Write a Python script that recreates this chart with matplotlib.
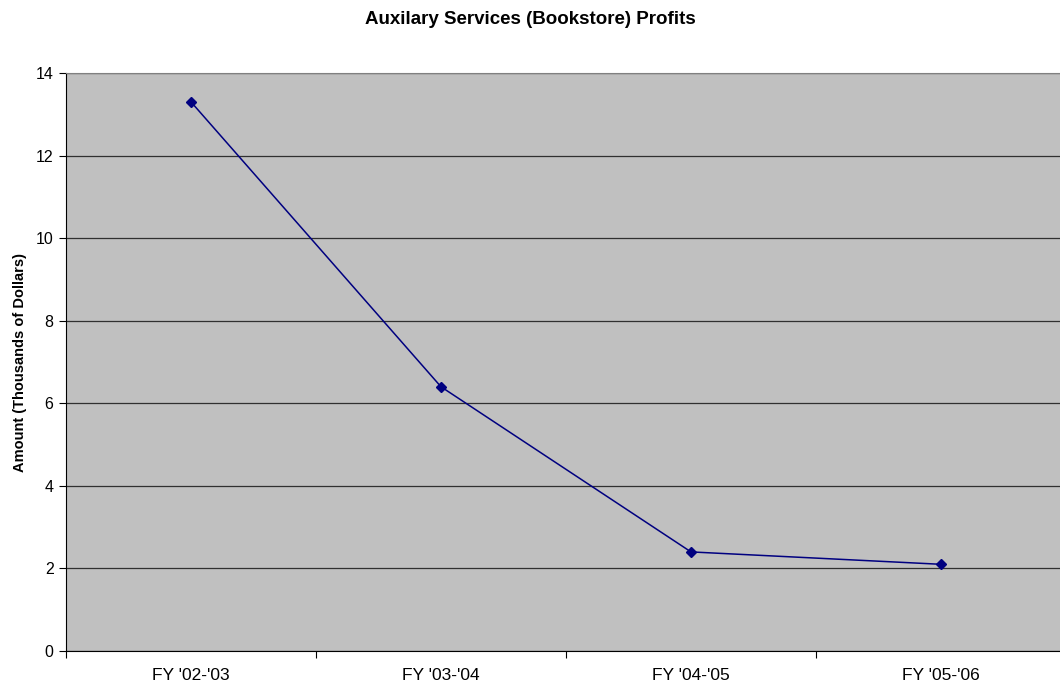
import matplotlib
matplotlib.use("Agg")
import matplotlib.pyplot as plt
import numpy as np

plt.rcParams['font.family'] = ['Liberation Sans', 'DejaVu Sans']

years = ["FY '02-'03", "FY '03-'04", "FY '04-'05", "FY '05-'06"]
profits = [13.3, 6.4, 2.4, 2.1]

fig = plt.figure(figsize=(10.6, 6.85), dpi=100)
ax = fig.add_axes([66 / 1060, 34 / 685, 1000 / 1060, 578 / 685])
ax.set_facecolor('#c0c0c0')

x = np.arange(len(years))
ax.plot(x, profits, color='#000080', lw=1.1, marker='D', markersize=5)

ax.set_xlim(-0.5, len(years) - 0.5)
ax.set_ylim(0, 14)
ax.set_yticks(range(0, 15, 2))
ax.yaxis.grid(True, color='#303030', lw=0.9)
ax.set_axisbelow(True)

# category labels sit on minor ticks, tick marks on the boundaries
ax.set_xticks(np.arange(-0.5, len(years), 1.0))
ax.set_xticklabels([])
ax.set_xticks(x, minor=True)
ax.set_xticklabels(years, minor=True)
ax.tick_params(axis='x', which='minor', length=0, pad=12, labelsize=12.5)
ax.tick_params(axis='x', which='major', length=5, color='#000000')
ax.tick_params(axis='y', length=5, labelsize=11.5, pad=4)

ax.spines['right'].set_visible(False)
ax.spines['top'].set_color('#808080')
ax.spines['left'].set_color('#000000')
ax.spines['bottom'].set_color('#000000')

ax.set_ylabel('Amount (Thousands of Dollars)', fontsize=10.5, fontweight='bold', labelpad=6)
fig.suptitle('Auxilary Services (Bookstore) Profits', fontsize=13.5, fontweight='bold', y=0.984)

fig.savefig('out.png', dpi=100)
